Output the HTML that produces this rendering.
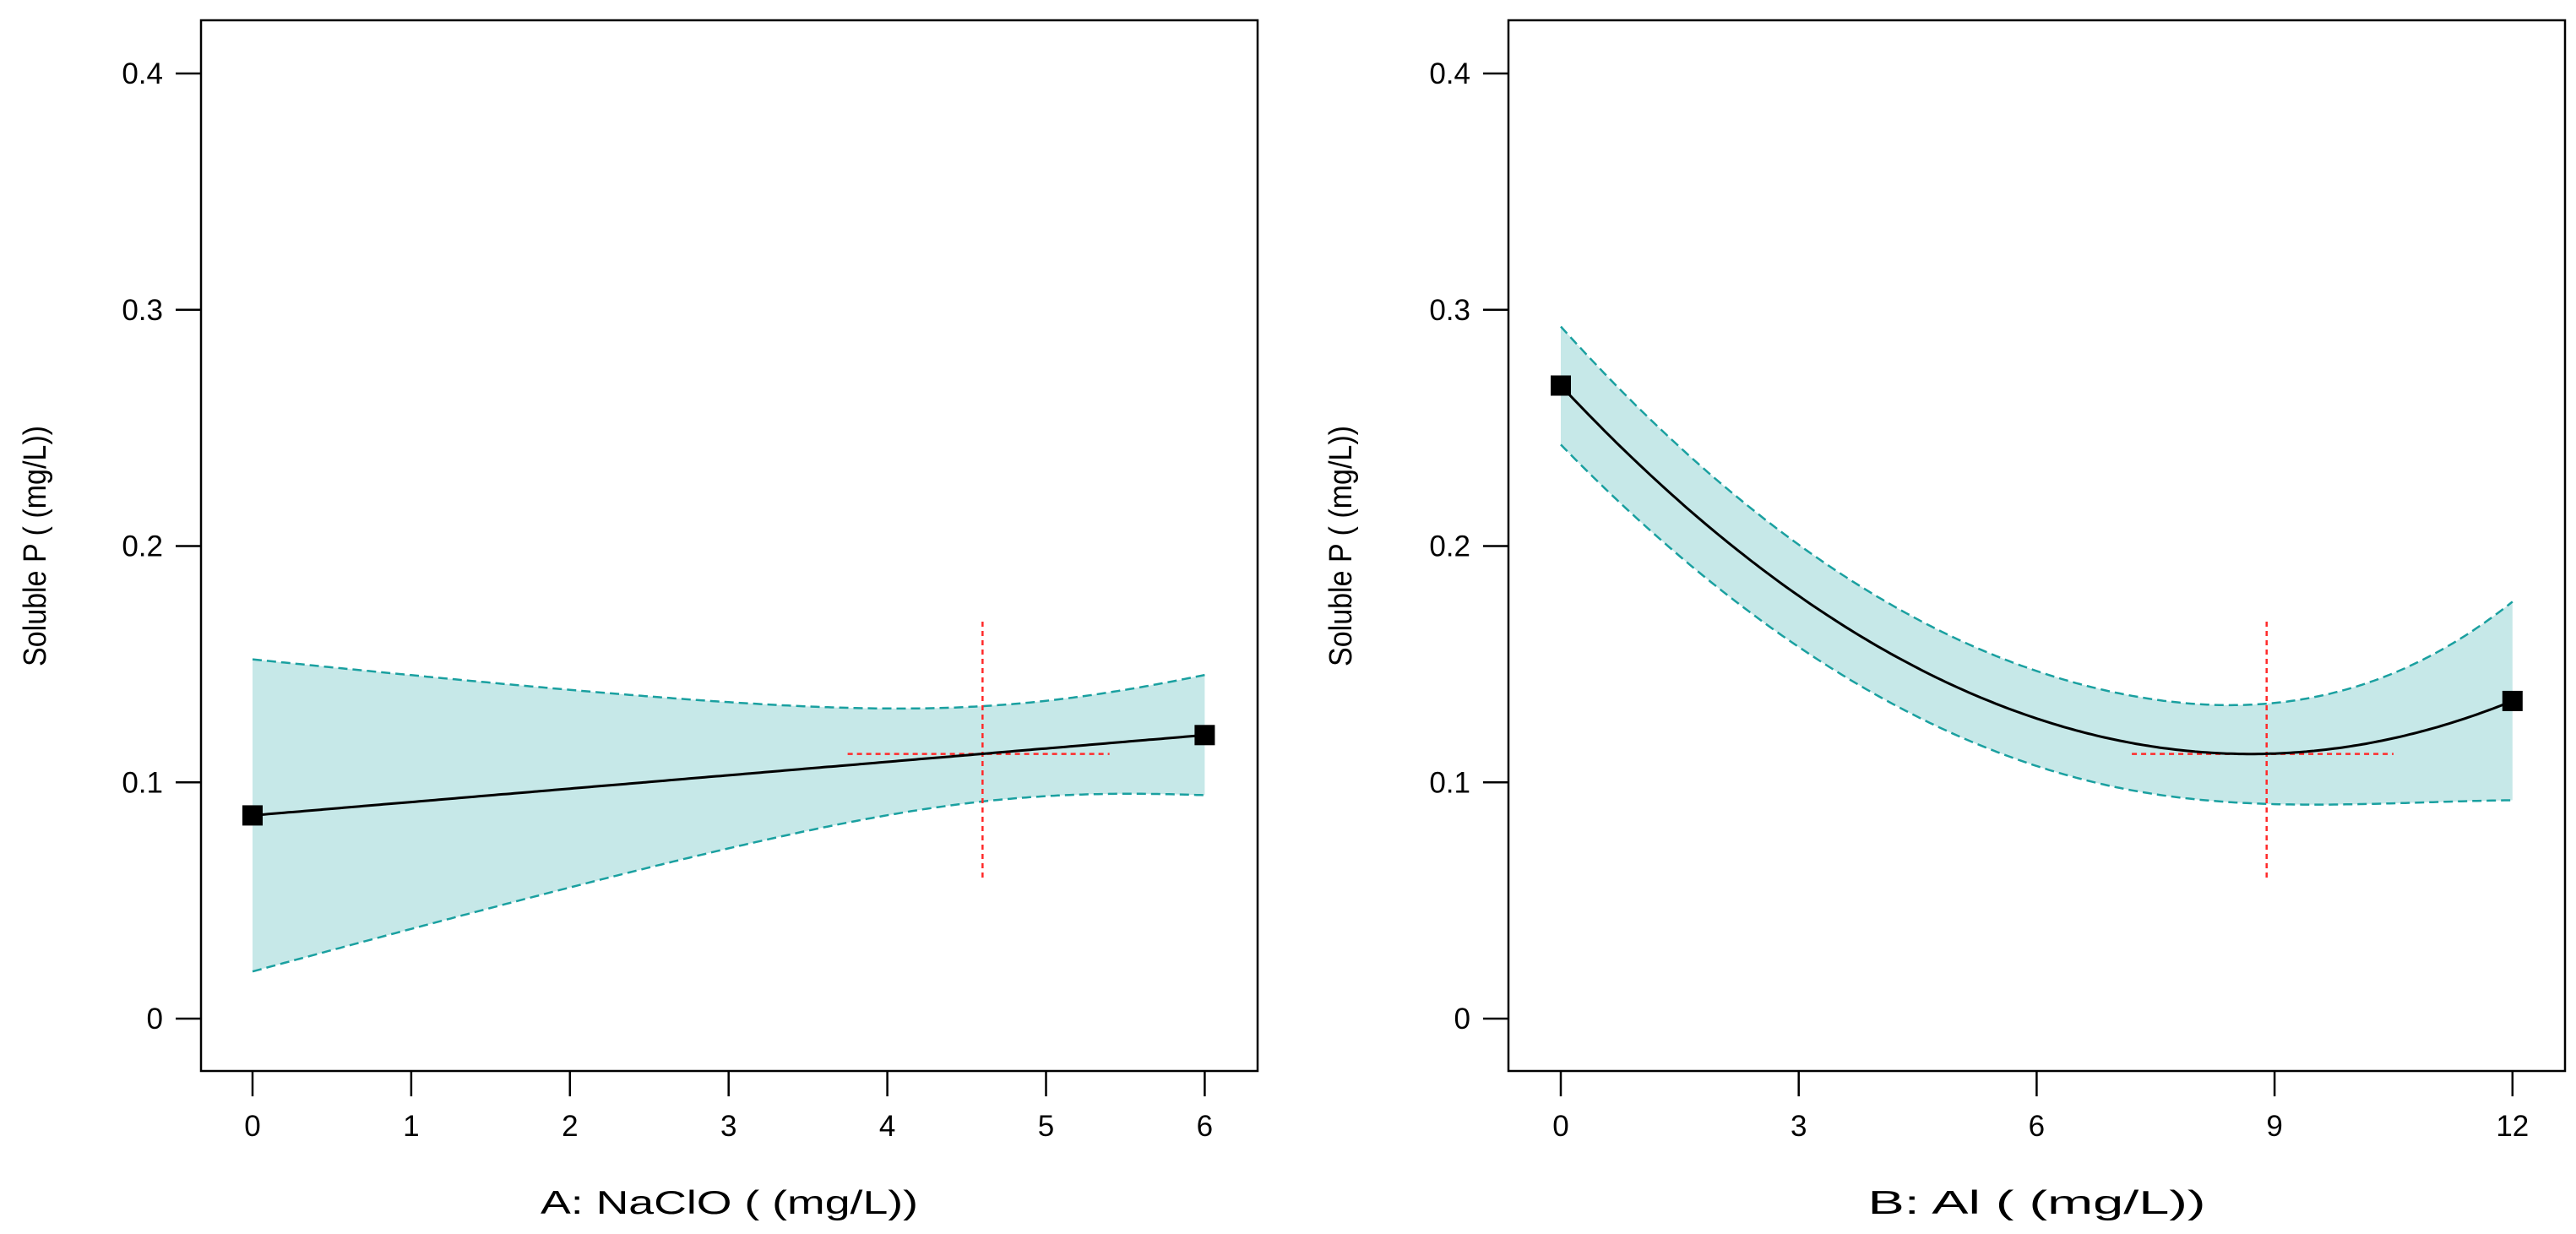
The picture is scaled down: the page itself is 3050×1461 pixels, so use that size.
<!DOCTYPE html>
<html><head><meta charset="utf-8"><style>
html,body{margin:0;padding:0;background:#fff;}
svg{display:block;font-family:"Liberation Sans",sans-serif;}
</style></head><body>
<svg id="s" width="3050" height="1461" viewBox="0 0 3050 1461" xmlns="http://www.w3.org/2000/svg"></svg>
<script>
const NS="http://www.w3.org/2000/svg";
const s=document.getElementById('s');
function el(t,a,txt){const e=document.createElementNS(NS,t);for(const k in a)e.setAttribute(k,a[k]);if(txt!==undefined)e.textContent=txt;s.appendChild(e);return e;}
const Y0=1206,YS=2797.5;
function plot(o){
  const X=v=>o.x0+(v-o.xmin)*o.xs, Y=v=>Y0-v*YS;
  const N=240;let up=[],lo=[],mid=[];
  for(let i=0;i<=N;i++){const x=o.xmin+(o.xmax-o.xmin)*i/N;const m=o.mean(x),e=o.se(x);
    up.push([X(x),Y(m+e)]);lo.push([X(x),Y(m-e)]);mid.push([X(x),Y(m)]);}
  const pth=a=>a.map((p,i)=>(i?'L':'M')+p[0].toFixed(1)+' '+p[1].toFixed(1)).join(' ');
  el('path',{d:pth(up)+' '+pth(lo.slice().reverse()).replace('M','L')+'Z',fill:'#c6e8e8',stroke:'none'});
  el('path',{d:pth(up),fill:'none',stroke:'#1aa0a0','stroke-width':2.5,'stroke-dasharray':'11 6'});
  el('path',{d:pth(lo),fill:'none',stroke:'#1aa0a0','stroke-width':2.5,'stroke-dasharray':'11 6'});
  el('line',{x1:X(o.cx),x2:X(o.cx),y1:Y(0.168),y2:Y(0.058),stroke:'#ff2a2a','stroke-width':2.5,'stroke-dasharray':'6 5'});
  el('line',{x1:o.hx1,x2:o.hx2,y1:Y(0.112),y2:Y(0.112),stroke:'#ff2a2a','stroke-width':2.5,'stroke-dasharray':'6 5'});
  el('path',{d:pth(mid),fill:'none',stroke:'#000','stroke-width':3});
  [o.xmin,o.xmax].forEach(x=>{const m=o.mean(x);el('rect',{x:X(x)-12,y:Y(m)-12,width:24,height:24,fill:'#000'});});
  el('rect',{x:o.fx,y:24,width:o.fw,height:1244,fill:'none',stroke:'#000','stroke-width':2.5});
  [0,0.1,0.2,0.3,0.4].forEach(v=>{el('line',{x1:o.fx-30,x2:o.fx,y1:Y(v),y2:Y(v),stroke:'#000','stroke-width':2.5});
    el('text',{x:o.fx-45,y:Y(v)+12,'font-size':35,'text-anchor':'end'},v===0?'0':v.toFixed(1));});
  o.ticks.forEach(v=>{el('line',{x1:X(v),x2:X(v),y1:1268,y2:1298,stroke:'#000','stroke-width':2.5});
    el('text',{x:X(v),y:1345,'font-size':35,'text-anchor':'middle'},String(v));});
  el('text',{x:o.fx+o.fw/2,y:1437,'font-size':39,'text-anchor':'middle',textLength:o.tl,lengthAdjust:'spacingAndGlyphs'},o.xl);
  el('text',{x:0,y:0,'font-size':38,'text-anchor':'middle',textLength:285,lengthAdjust:'spacingAndGlyphs',transform:`translate(${o.yx},${Y(0.2)}) rotate(-90)`},'Soluble P ( (mg/L))');
}
plot({x0:299,xs:187.9,xmin:0,xmax:6,fx:238,fw:1251,ticks:[0,1,2,3,4,5,6],
  mean:x=>0.086+0.034*x/6,se:x=>Math.sqrt(0.0004+0.000172*(x-4.8)*(x-4.8)),
  cx:4.6,hx1:299+3.75*187.9,hx2:299+5.4*187.9,xl:'A: NaClO ( (mg/L))',tl:447,yx:54});
plot({x0:1848,xs:93.9,xmin:0,xmax:12,fx:1786,fw:1251,ticks:[0,3,6,9,12],
  mean:x=>0.112+0.00206*(x-8.7)*(x-8.7),
  se:x=>x<7?0.02+0.005*Math.pow((7-x)/7,2):0.02+0.000176*Math.pow(x-7,3),
  cx:8.9,hx1:1848+7.2*93.9,hx2:1848+10.5*93.9,xl:'B: Al  ( (mg/L))',tl:400,yx:1600});
</script>
</body></html>
